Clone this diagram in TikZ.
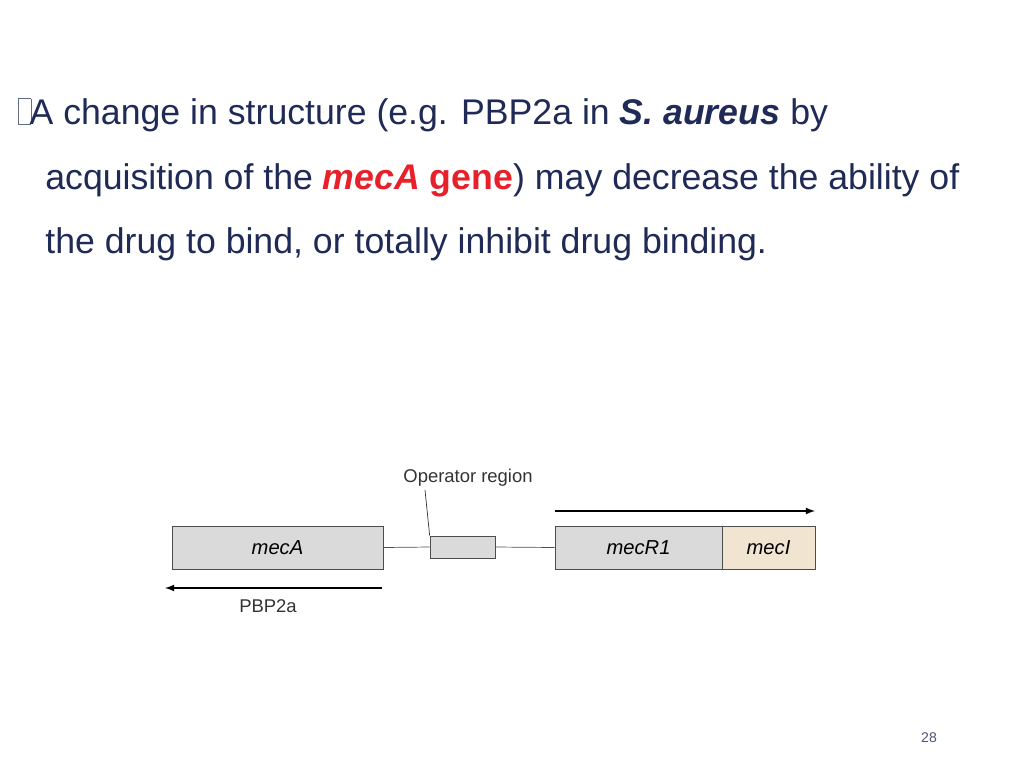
\documentclass[tikz,border=0pt]{standalone}
\usepackage{fontspec}
\setmainfont{Liberation Sans}
\usetikzlibrary{positioning}
\definecolor{navy}{HTML}{1F2A56}
\definecolor{genered}{HTML}{E8202A}
\definecolor{boxgray}{HTML}{DADADA}
\definecolor{beige}{HTML}{F1E4D0}
\newcommand{\emptybox}{{\setlength\fboxsep{0pt}\setlength\fboxrule{0.3pt}\textcolor{navy!70}{\fbox{\rule{0pt}{0.5cm}\hspace{0.24cm}}}}}
\tikzset{gene/.style={draw=black!70,fill=boxgray,minimum height=0.86cm,inner sep=0pt},
	body/.style={anchor=base west,inner sep=0pt,text=navy,font=\fontsize{20.3}{24}\selectfont},
	small/.style={font=\fontsize{10.5}{12}\selectfont,text=black!80}}
\begin{document}
\begin{tikzpicture}[x=0.02cm,y=-0.02cm,>=latex]
\useasboundingbox (0,0) rectangle (1024,768);
% text
\node[body] (l1) at (18,124) {\emptybox\hspace{-1pt}A change in structure (e.g. PBP2a in \textbf{\textit{S. aureus}} by};
\node[body] (l2) at (45,189) {acquisition of the \textcolor{genered}{\textbf{\textit{mecA}} \textbf{gene}}) may decrease the ability of};
\node[body] (l3) at (45,253) {the drug to bind, or totally inhibit drug binding.};
% genes
\node[gene,minimum width=4.22cm] (meca) at (277.5,547.5) {\fontsize{11.5}{13}\selectfont\textit{mecA}};
\node[gene,minimum width=1.3cm,minimum height=0.44cm] (op) at (462.5,547) {};
\node[gene,minimum width=3.34cm] (mecr) at (638.5,547.5) {\fontsize{11.5}{13}\selectfont\textit{mecR1}};
\node[gene,fill=beige,minimum width=1.86cm] (meci) at (768.5,547.5) {\fontsize{11.5}{13}\selectfont\textit{mecI}};
\draw[black!70] (meca.east) -- (op.west);
\draw[black!70] (op.east) -- (mecr.west);
% arrows
\coordinate (t1) at (555,511);
\coordinate (t2) at (815,511);
\draw[->,thick] (t1) -- (t2);
\coordinate (b1) at (382,588);
\coordinate (b2) at (165,588);
\draw[->,thick] (b1) -- (b2);
\node[small] (pbp) at (268,606) {PBP2a};
\node[small] (opl) at (468,478) {Operator region};
\draw[black!80] (425,490) -- (op.north west);
\node[text=navy!80,font=\fontsize{8}{10}\selectfont] (pg) at (929,738) {28};
\end{tikzpicture}
\end{document}
